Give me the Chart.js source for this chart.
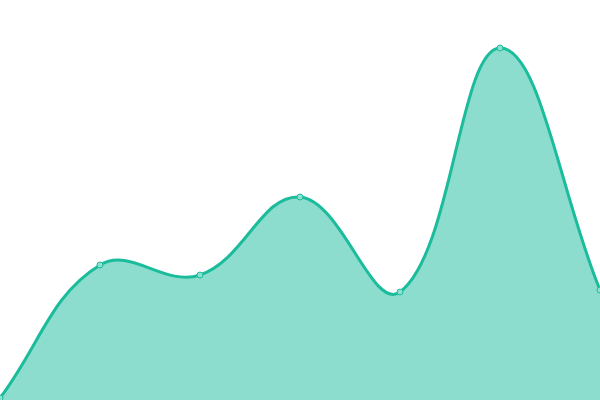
<!DOCTYPE html>
<html>
<head>
<meta charset="utf-8">
<script src="https://cdn.jsdelivr.net/npm/chart.js@4"></script>
<style>
  html, body { margin: 0; padding: 0; background: #fff; }
  #wrap { width: 600px; height: 400px; }
</style>
</head>
<body>
<div id="wrap"><canvas id="areaChart"></canvas></div>
<script>
const labels = ['A', 'B', 'C', 'D', 'E', 'F', 'G'];
const values = [0.5, 33.75, 31.25, 50.75, 27, 88, 27.5];

const ctx = document.getElementById('areaChart').getContext('2d');
new Chart(ctx, {
  type: 'line',
  data: {
    labels: labels,
    datasets: [
      {
        data: values,
        fill: true,
        tension: 0.4,
        borderColor: '#1abc9c',
        backgroundColor: 'rgba(26, 188, 156, 0.5)',
        borderWidth: 3,
        pointRadius: 3,
        pointBorderWidth: 1,
        pointBackgroundColor: '#8ce0cf',
        pointBorderColor: '#1abc9c',
      },
    ],
  },
  options: {
    responsive: true,
    maintainAspectRatio: false,
    animation: false,
    layout: { padding: 0, autoPadding: false },
    scales: {
      x: { display: false },
      y: { display: false, min: 0, max: 100 },
    },
    plugins: {
      legend: { display: false },
      tooltip: { enabled: false },
    },
  },
});
</script>
</body>
</html>
